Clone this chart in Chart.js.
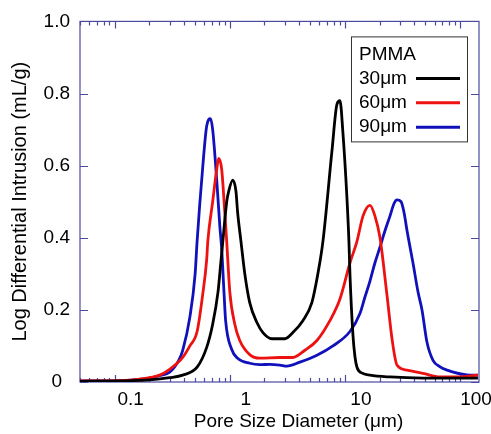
<!DOCTYPE html>
<html>
<head>
<meta charset="utf-8">
<script src="https://cdn.jsdelivr.net/npm/chart.js@4.4.0/dist/chart.umd.min.js"></script>
<style>
  html, body { margin: 0; padding: 0; background: #fff; }
</style>
</head>
<body>
<canvas id="chart" width="491" height="434"></canvas>
<script>
// ── data (pore diameter in µm, intrusion in mL/g) ──
const blackX = [0.05, 0.11, 0.20, 0.30, 0.39, 0.52, 0.63, 0.71, 0.79, 0.835, 0.87, 0.94, 0.98, 1.06, 1.13, 1.17, 1.25, 1.35, 1.49, 1.72, 1.94, 2.32, 3.01, 3.53, 4.31, 5.16, 5.82, 6.44, 7.71, 8.52, 9.05, 9.61, 10.41, 10.83, 11.05, 11.74, 12.22, 12.72, 14.3, 16.5, 24.6, 47.7, 143];
const blackY = [0.002, 0.003, 0.006, 0.012, 0.019, 0.041, 0.096, 0.16, 0.25, 0.33, 0.39, 0.50, 0.53, 0.56, 0.53, 0.47, 0.39, 0.30, 0.22, 0.165, 0.137, 0.12, 0.12, 0.137, 0.17, 0.22, 0.30, 0.39, 0.64, 0.77, 0.78, 0.69, 0.51, 0.39, 0.30, 0.13, 0.07, 0.041, 0.024, 0.019, 0.014, 0.011, 0.011];

const redX = [0.05, 0.11, 0.165, 0.246, 0.30, 0.39, 0.45, 0.52, 0.58, 0.63, 0.644, 0.71, 0.77, 0.80, 0.85, 0.905, 0.94, 1.0, 1.105, 1.22, 1.49, 1.82, 2.72, 3.53, 4.49, 5.71, 7.40, 9.05, 11.05, 12.72, 14.34, 16.5, 18.24, 20.16, 23.2, 25.63, 28.3, 34.6, 47.7, 67.0, 94.2, 143];
const redY = [0.003, 0.004, 0.008, 0.019, 0.035, 0.068, 0.10, 0.14, 0.24, 0.34, 0.39, 0.50, 0.59, 0.62, 0.59, 0.47, 0.39, 0.25, 0.16, 0.115, 0.076, 0.066, 0.068, 0.068, 0.088, 0.115, 0.17, 0.23, 0.33, 0.39, 0.46, 0.49, 0.46, 0.40, 0.24, 0.12, 0.047, 0.033, 0.024, 0.014, 0.014, 0.019];

const blueX = [0.05, 0.08, 0.12, 0.16, 0.20, 0.25, 0.30, 0.36, 0.39, 0.45, 0.50, 0.52, 0.58, 0.63, 0.68, 0.71, 0.77, 0.82, 0.85, 0.89, 0.92, 1.04, 1.17, 1.49, 1.82, 2.23, 2.72, 3.13, 4.06, 5.71, 7.86, 11.05, 13.5, 14.9, 16.5, 18.2, 20.2, 22.3, 24.6, 26.7, 28.3, 30.7, 32.6, 34.6, 39.0, 43.1, 46.7, 51.6, 58.2, 67.0, 77.1, 115, 143];
const blueY = [0.003, 0.003, 0.004, 0.007, 0.011, 0.018, 0.027, 0.06, 0.088, 0.18, 0.30, 0.39, 0.59, 0.71, 0.73, 0.70, 0.56, 0.43, 0.37, 0.25, 0.17, 0.09, 0.066, 0.052, 0.048, 0.049, 0.047, 0.044, 0.055, 0.074, 0.10, 0.14, 0.19, 0.235, 0.28, 0.33, 0.375, 0.42, 0.46, 0.495, 0.505, 0.50, 0.47, 0.42, 0.33, 0.25, 0.20, 0.11, 0.06, 0.042, 0.033, 0.02, 0.019];

const seriesLabels = ["30μm", "60μm", "90μm"];
const seriesColors = ["#000000", "#ee1111", "#1111bb"];
const legendTitle = "PMMA";

const xMajor = [0.1, 1, 10, 100];
const xMajorLabels = ["0.1", "1", "10", "100"];
const yTickValues = [0, 0.2, 0.4, 0.6, 0.8, 1.0];
const yTickLabels = ["0", "0.2", "0.4", "0.6", "0.8", "1.0"];

const X_MIN = 0.05, X_MAX = 146;
const AXIS_COLOR = "#4a4aa0";
const FONT = '"Liberation Sans", Arial, sans-serif';

// minor ticks 2..9 in every decade inside the range
const xTickValues = [];
[0.01, 0.1, 1, 10, 100].forEach((d) => {
  for (let k = 1; k <= 9; k++) {
    const v = +(d * k).toPrecision(3);
    if (v >= X_MIN && v <= X_MAX) xTickValues.push(v);
  }
});

const pts = (xs, ys) => xs.map((x, i) => ({ x, y: ys[i] }));
const seriesData = [pts(blackX, blackY), pts(redX, redY), pts(blueX, blueY)];

Chart.defaults.font.family = FONT;
Chart.defaults.color = "#000";

// ── frame, inward ticks, legend and x title ──────────────────
const frame = {
  id: "frame",
  beforeDatasetsDraw(chart) {
    const { ctx, chartArea: a, scales: { x, y } } = chart;
    ctx.save();
    ctx.strokeStyle = AXIS_COLOR;
    ctx.lineWidth = 1.2;
    ctx.strokeRect(a.left, a.top, a.right - a.left, a.bottom - a.top);
    ctx.beginPath();
    x.ticks.forEach((t) => {
      const px = Math.round(x.getPixelForValue(t.value)) + 0.5;
      const len = xMajor.includes(t.value) ? 7 : 4;
      ctx.moveTo(px, a.bottom); ctx.lineTo(px, a.bottom - len);
      ctx.moveTo(px, a.top); ctx.lineTo(px, a.top + len);
    });
    y.ticks.forEach((t) => {
      const py = Math.round(y.getPixelForValue(t.value)) + 0.5;
      ctx.moveTo(a.left, py); ctx.lineTo(a.left + 8, py);
      ctx.moveTo(a.right, py); ctx.lineTo(a.right - 8, py);
    });
    ctx.stroke();
    ctx.restore();
  },
  afterDraw(chart) {
    const { ctx, chartArea: a } = chart;
    ctx.save();
    // legend box
    const bx = a.right - 128, by = a.top + 15, bw = 116, bh = 105;
    ctx.fillStyle = "#fff";
    ctx.fillRect(bx, by, bw, bh);
    ctx.strokeStyle = "#333";
    ctx.lineWidth = 1;
    ctx.strokeRect(bx + 0.5, by + 0.5, bw, bh);
    ctx.fillStyle = "#000";
    ctx.font = "19px " + FONT;
    ctx.textBaseline = "middle";
    ctx.textAlign = "left";
    ctx.fillText(legendTitle, bx + 8, by + 18);
    chart.data.datasets.forEach((ds, i) => {
      const ly = by + 42 + i * 24.4;
      ctx.fillStyle = "#000";
      ctx.fillText(ds.label, bx + 8, ly);
      ctx.strokeStyle = ds.borderColor;
      ctx.lineWidth = 3;
      ctx.beginPath();
      ctx.moveTo(bx + 65, ly); ctx.lineTo(bx + 109, ly);
      ctx.stroke();
    });
    // x title, sits a little right of centre like the tick labels
    ctx.textAlign = "center";
    ctx.fillStyle = "#000";
    ctx.fillText("Pore Size Diameter (μm)", (a.left + a.right) / 2 + 19, a.bottom + 40);
    ctx.restore();
  },
};

new Chart(document.getElementById("chart"), {
  type: "line",
  data: {
    datasets: seriesData.map((d, i) => ({
      label: seriesLabels[i],
      data: d,
      borderColor: seriesColors[i],
      backgroundColor: seriesColors[i],
      borderWidth: 2.8,
      pointRadius: 0,
      cubicInterpolationMode: "monotone",
      fill: false,
    })),
  },
  options: {
    responsive: false,
    animation: false,
    layout: { padding: { left: 0, right: 12, top: 17, bottom: 0 } },
    plugins: { legend: { display: false }, tooltip: { enabled: false } },
    scales: {
      x: {
        type: "logarithmic",
        min: X_MIN,
        max: X_MAX,
        grid: { display: false, drawTicks: false },
        border: { display: false },
        afterBuildTicks: (scale) => {
          scale.ticks = xTickValues.map((v) => ({ value: v }));
        },
        afterFit: (scale) => { scale.height = 52; },
        ticks: {
          autoSkip: false,
          maxRotation: 0,
          minRotation: 0,
          padding: 6,
          labelOffset: 16,
          font: { size: 19 },
          callback: (v) => {
            const i = xMajor.indexOf(v);
            return i >= 0 ? xMajorLabels[i] : "";
          },
        },
      },
      y: {
        min: 0,
        max: 1,
        grid: { display: false, drawTicks: false },
        border: { display: false },
        afterBuildTicks: (scale) => {
          scale.ticks = yTickValues.map((v) => ({ value: v }));
        },
        afterFit: (scale) => { scale.width = 80; },
        ticks: {
          padding: 10,
          crossAlign: "center",
          font: { size: 19 },
          callback: (v) => yTickLabels[yTickValues.indexOf(v)],
        },
        title: {
          display: true,
          text: "Log Differential Intrusion (mL/g)",
          font: { size: 20 },
          padding: { top: 8, bottom: 0 },
        },
      },
    },
  },
  plugins: [frame],
});
</script>
</body>
</html>
